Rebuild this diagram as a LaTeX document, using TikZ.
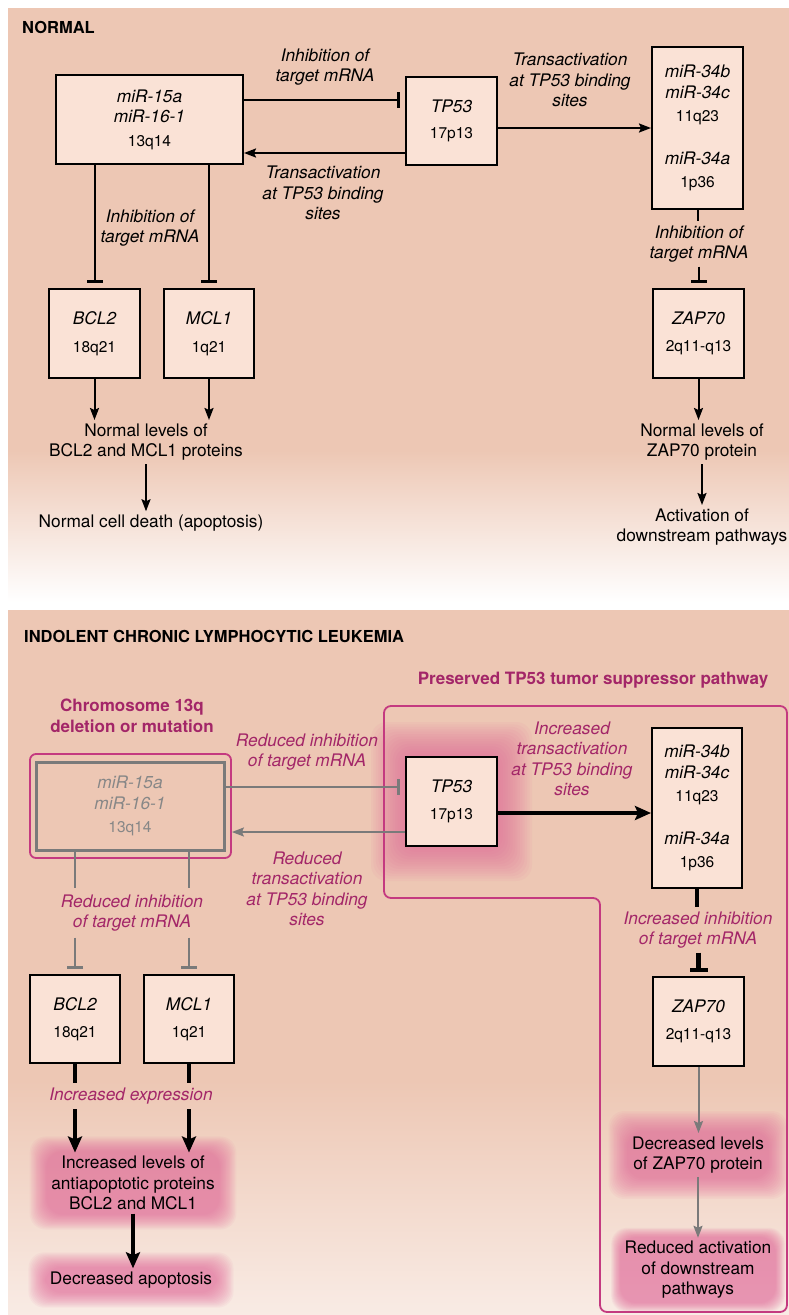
\documentclass[tikz,border=0pt]{standalone}
\usepackage{fontspec}
\setmainfont{TeX Gyre Heros}
\usetikzlibrary{arrows.meta,calc,positioning}
\pgfdeclarelayer{bg}
\pgfdeclarelayer{glow}
\pgfsetlayers{bg,glow,main}
\definecolor{bgpink}{RGB}{237,199,180}
\definecolor{boxpink}{RGB}{250,226,214}
\definecolor{plum}{RGB}{163,38,104}
\definecolor{rim}{RGB}{196,58,128}
\definecolor{ash}{RGB}{122,122,122}
\definecolor{glowpink}{RGB}{226,92,148}
\newcommand\chr[1]{{\upshape\fontsize{15.5}{18}\selectfont #1}}
% pink halo behind a node
\newcommand\glowat[3]{%
  \begin{pgfonlayer}{glow}
  \foreach \k in {0,...,13}
    \fill[glowpink, fill opacity=.06, rounded corners=16pt]
      ([shift={({-#2*(1-\k/14)},{-#3*(1-\k/14)})}]#1.north west) rectangle
      ([shift={({#2*(1-\k/14)},{#3*(1-\k/14)})}]#1.south east);
  \end{pgfonlayer}}

\begin{document}
\begin{tikzpicture}[x=1pt,y=-1pt,
    every node/.append style={font=\fontsize{17.3}{20.5}\selectfont, align=center},
    gene/.style={draw, line width=2pt, fill=boxpink, inner sep=0pt,
                 font=\fontsize{17.3}{20.5}\selectfont\itshape},
    lost/.style={draw=ash, line width=3pt, inner sep=0pt, text=ash!90,
                 font=\fontsize{17.3}{20.5}\selectfont\itshape},
    note/.style={font=\fontsize{17.3}{20.5}\selectfont\itshape},
    pnote/.style={note, text=plum},
    head/.style={font=\fontsize{16.5}{20}\selectfont\bfseries, anchor=west, inner sep=0pt},
    phead/.style={font=\fontsize{17}{20.5}\selectfont\bfseries, text=plum},
    act/.style={line width=2pt, -{Stealth[length=12pt,width=9pt,inset=2pt]}},
    inh/.style={line width=2pt, -{Bar[width=16pt,line width=3.5pt]}, shorten >=5pt},
    gline/.style={line width=2pt, draw=ash},
    gact/.style={act, draw=ash},
    ginh/.style={inh, draw=ash},
    bline/.style={line width=4.2pt},
    bact/.style={line width=4.2pt, -{Stealth[length=16pt,width=14pt,inset=3pt]}},
    binh/.style={line width=4.2pt, -{Bar[width=18pt,line width=4.5pt]}, shorten >=4pt}]
  \useasboundingbox (0,0) rectangle (789,1315);
  \begin{pgfonlayer}{bg}
    \fill[white] (0,0) rectangle (789,1315);
    \fill[bgpink] (8,8) rectangle (789,450);
    \shade[top color=bgpink, bottom color=white] (8,450) rectangle (789,602);
    \fill[bgpink] (8,610) rectangle (789,1080);
    \shade[top color=bgpink, bottom color=bgpink!35] (8,1080) rectangle (789,1315);
  \end{pgfonlayer}

  % normal
  \node[head] (normal) at (22,27) {NORMAL};
  \node[gene, minimum width=187pt, minimum height=89pt] (mir15) at (149.5,119.5)
    {miR-15a\\miR-16-1\\[3pt]\chr{13q14}};
  \node[gene, minimum width=91pt, minimum height=88pt] (tp53) at (451.5,121)
    {TP53\\[6pt]\chr{17p13}};
  \node[gene, minimum width=91pt, minimum height=162pt] (mir34) at (697.5,128)
    {miR-34b\\miR-34c\\[3pt]\chr{11q23}\\[22pt]miR-34a\\[3pt]\chr{1p36}};
  \node[gene, minimum width=91pt, minimum height=89pt] (bcl2) at (94.5,333.5)
    {BCL2\\[7pt]\chr{18q21}};
  \node[gene, minimum width=90pt, minimum height=89pt] (mcl1) at (209,333.5)
    {MCL1\\[7pt]\chr{1q21}};
  \node[gene, minimum width=91pt, minimum height=89pt] (zap70) at (698.5,333.5)
    {ZAP70\\[7pt]\chr{2q11-q13}};

  \node[note] (inhlbl) at (325,67) {Inhibition of\\target mRNA};
  \node[note] (trlbl) at (323,193) {Transactivation\\at TP53 binding\\sites};
  \node[note] (trlbl2) at (570,80) {Transactivation\\at TP53 binding\\sites};
  \node[note] (inhlbl2) at (150,228) {Inhibition of\\target mRNA};
  \node[note, inner sep=4pt] (inhlbl3) at (699,244) {Inhibition of\\target mRNA};

  \node (lvl1) at (146,442) {Normal levels of\\BCL2 and MCL1 proteins};
  \node (death) at (151,523) {Normal cell death (apoptosis)};
  \node (lvl2) at (702,442) {Normal levels of\\ZAP70 protein};
  \node (path1) at (702,527) {Activation of\\downstream pathways};

  \draw[inh] ([yshift=19.5pt]mir15.east) -- ([yshift=19.5pt]mir15.east -| tp53.west);
  \draw[act] ([yshift=-32pt]tp53.west) -- ([yshift=-32pt]tp53.west -| mir15.east);
  \draw[act] ([yshift=-7pt]tp53.east) -- ([yshift=-7pt]tp53.east -| mir34.west);
  \draw[inh] (mir15.south -| bcl2.north) -- (bcl2.north);
  \draw[inh] (mir15.south -| mcl1.north) -- (mcl1.north);
  \draw[line width=2pt] (mir34.south) -- (mir34.south |- inhlbl3.north);
  \draw[inh] (zap70.north |- inhlbl3.south) -- (zap70.north);
  \draw[act] (bcl2.south) -- (bcl2.south |- lvl1.north);
  \draw[act] (mcl1.south) -- (mcl1.south |- lvl1.north);
  \draw[act] (lvl1.south) -- (lvl1.south |- death.north);
  \draw[act] (zap70.south) -- (zap70.south |- lvl2.north);
  \draw[act] (lvl2.south) -- (lvl2.south |- path1.north);

  % leukemia
  \node[head] (icll) at (24,636) {INDOLENT CHRONIC LYMPHOCYTIC LEUKEMIA};
  \node[phead] (del13) at (132,716) {Chromosome 13q\\deletion or mutation};
  \node[phead] (keep) at (593,680) {Preserved TP53 tumor suppressor pathway};
  \draw[rim, line width=1.8pt, rounded corners=7pt]
    (384,706) -- (787,706) -- (787,1312) -- (600,1312) -- (600,898) -- (384,898) -- cycle;
  \node[draw=rim, line width=1.8pt, rounded corners=6pt, minimum width=201pt,
        minimum height=104pt] (del13box) at (130.5,806) {};
  \node[lost, minimum width=188pt, minimum height=88pt] (mir15b) at (130,806)
    {miR-15a\\miR-16-1\\[3pt]\chr{13q14}};
  \node[gene, minimum width=91pt, minimum height=89pt] (tp53b) at (451.5,801.5)
    {TP53\\[6pt]\chr{17p13}};
  \node[gene, minimum width=90pt, minimum height=160pt] (mir34b) at (697,808)
    {miR-34b\\miR-34c\\[3pt]\chr{11q23}\\[22pt]miR-34a\\[3pt]\chr{1p36}};
  \node[gene, minimum width=90pt, minimum height=88pt] (bcl2b) at (75,1019)
    {BCL2\\[7pt]\chr{18q21}};
  \node[gene, minimum width=90pt, minimum height=88pt] (mcl1b) at (189,1019)
    {MCL1\\[7pt]\chr{1q21}};
  \node[gene, minimum width=91pt, minimum height=89pt] (zap70b) at (698.5,1021.5)
    {ZAP70\\[7pt]\chr{2q11-q13}};

  \node[pnote] (redinh) at (307,752) {Reduced inhibition\\of target mRNA};
  \node[pnote] (redtr) at (307,889) {Reduced\\transactivation\\at TP53 binding\\sites};
  \node[pnote] (inctr) at (572,759) {Increased\\transactivation\\at TP53 binding\\sites};
  \node[pnote, inner sep=6pt] (redinh2) at (132,913) {Reduced inhibition\\of target mRNA};
  \node[pnote, inner sep=4pt] (incinh) at (698,930) {Increased inhibition\\of target mRNA};
  \node[pnote, inner sep=5pt] (incexp) at (131,1096) {Increased expression};

  \node (incprot) at (133,1183) {Increased levels of\\antiapoptotic proteins\\BCL2 and MCL1};
  \node (lessapo) at (131,1280) {Decreased apoptosis};
  \node (lesszap) at (698,1155) {Decreased levels\\of ZAP70 protein};
  \node (lesspath) at (698,1270) {Reduced activation\\of downstream\\pathways};

  \glowat{tp53b}{34}{34}
  \glowat{incprot}{18}{16}
  \glowat{lessapo}{18}{16}
  \glowat{lesszap}{20}{22}
  \glowat{lesspath}{10}{10}

  \draw[ginh] ([yshift=19pt]mir15b.east) -- ([yshift=19pt]mir15b.east -| tp53b.west);
  \draw[gact] ([yshift=-30.5pt]tp53b.west) -- ([yshift=-30.5pt]tp53b.west -| del13box.east);
  \draw[bact] ([yshift=-11.5pt]tp53b.east) -- ([yshift=-11.5pt]tp53b.east -| mir34b.west);
  \draw[gline] (mir15b.south -| bcl2b.north) -- (bcl2b.north |- redinh2.north);
  \draw[gline] (mir15b.south -| mcl1b.north) -- (mcl1b.north |- redinh2.north);
  \draw[ginh] (bcl2b.north |- redinh2.south) -- (bcl2b.north);
  \draw[ginh] (mcl1b.north |- redinh2.south) -- (mcl1b.north);
  \draw[bline] (mir34b.south) -- (mir34b.south |- incinh.north);
  \draw[binh] (zap70b.north |- incinh.south) -- (zap70b.north);
  \draw[bline] (bcl2b.south) -- (bcl2b.south |- incexp.north);
  \draw[bline] (mcl1b.south) -- (mcl1b.south |- incexp.north);
  \draw[bact] (bcl2b.south |- incexp.south) -- (bcl2b.south |- incprot.north);
  \draw[bact] (mcl1b.south |- incexp.south) -- (mcl1b.south |- incprot.north);
  \draw[bact] (incprot.south) -- (incprot.south |- lessapo.north);
  \draw[gact] (zap70b.south) -- (zap70b.south |- lesszap.north);
  \draw[gact] (lesszap.south) -- (lesszap.south |- lesspath.north);
\end{tikzpicture}
\end{document}
